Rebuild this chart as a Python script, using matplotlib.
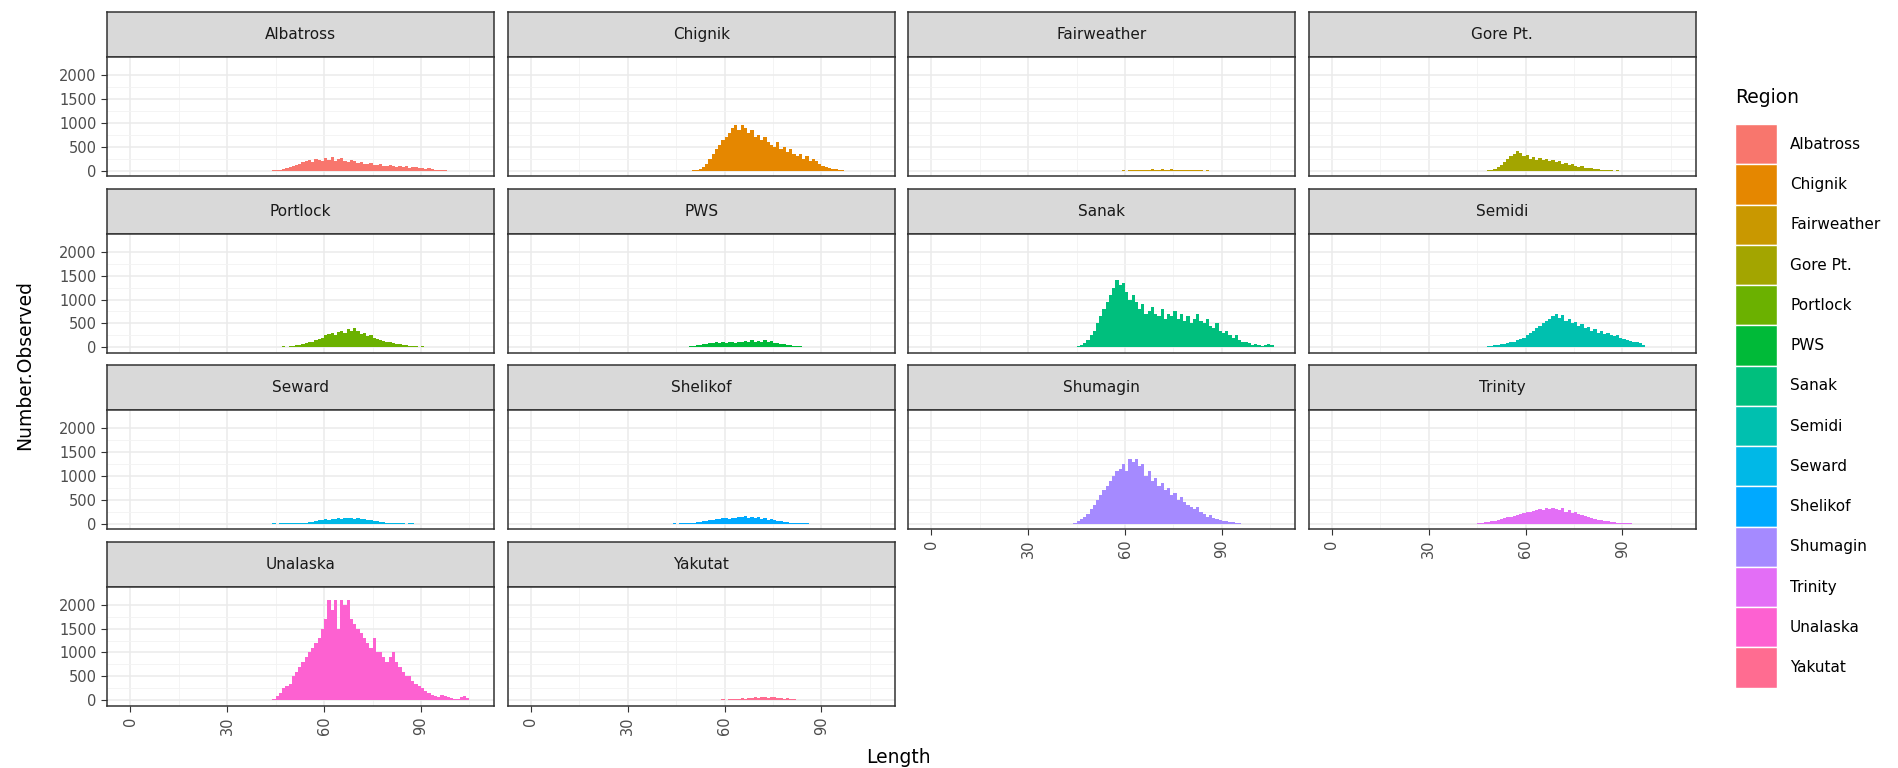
import numpy as np
import matplotlib.pyplot as plt
from matplotlib.patches import Rectangle

regions = ["Albatross", "Chignik", "Fairweather", "Gore Pt.", "Portlock", "PWS", "Sanak",
           "Semidi", "Seward", "Shelikof", "Shumagin", "Trinity", "Unalaska", "Yakutat"]
colors = ["#F8766D", "#E58700", "#C99800", "#A3A500", "#6BB100", "#00BA38", "#00BF7D",
          "#00C0AF", "#00B8E7", "#00A9FF", "#A58AFF", "#E36EF6", "#FD61D1", "#FF6C91"]

# first length bin of each region, then counts per 1-unit length bin
starts = {
    "Albatross": 42, "Chignik": 50, "Fairweather": 55, "Gore Pt.": 47, "Portlock": 40,
    "PWS": 44, "Sanak": 44, "Semidi": 45, "Seward": 44, "Shelikof": 44, "Shumagin": 44,
    "Trinity": 45, "Unalaska": 44, "Yakutat": 40,
}
counts = {
    "Albatross": [5, 0, 10, 15, 20, 30, 50, 80, 100, 120, 150, 180, 200, 220, 180, 250, 220, 200,
                  260, 230, 280, 210, 250, 270, 200, 180, 220, 200, 170, 190, 150, 140, 160, 130,
                  120, 140, 110, 100, 120, 90, 80, 100, 70, 90, 60, 80, 70, 50, 60, 40, 50, 30, 20, 25, 15, 10, 5],
    "Chignik": [10, 20, 40, 80, 150, 250, 350, 450, 550, 650, 700, 800, 900, 950, 850, 950, 900,
                800, 850, 700, 750, 650, 700, 600, 550, 500, 600, 450, 500, 400, 450, 350, 300,
                350, 250, 300, 200, 250, 200, 150, 100, 80, 50, 40, 30, 20, 10],
    "Fairweather": [5, 0, 5, 0, 10, 5, 10, 15, 10, 20, 15, 25, 20, 30, 25, 20, 30, 25, 20, 30, 25,
                    20, 15, 25, 20, 15, 10, 15, 10, 5, 10, 5, 0, 5, 5],
    "Gore Pt.": [5, 10, 20, 40, 80, 120, 180, 250, 300, 350, 420, 380, 300, 320, 250, 280, 230,
                 260, 220, 250, 200, 230, 180, 200, 150, 170, 120, 140, 100, 80, 90, 60, 50, 60, 40,
                 30, 20, 25, 15, 10, 5, 10, 5, 5],
    "Portlock": [5, 0, 5, 10, 5, 10, 15, 20, 15, 25, 30, 40, 50, 60, 80, 100, 120, 150, 180, 200,
                 250, 280, 300, 260, 320, 340, 300, 380, 330, 400, 350, 280, 300, 240, 260, 200,
                 180, 160, 140, 120, 100, 80, 70, 60, 50, 40, 30, 30, 20, 15, 20, 10, 15, 10, 5, 10, 5],
    "PWS": [5, 0, 5, 10, 10, 20, 30, 40, 50, 60, 70, 80, 90, 100, 80, 110, 90, 100, 120, 90,
            110, 100, 130, 110, 150, 120, 140, 100, 160, 110, 130, 90, 80, 70, 60, 50, 40, 30,
            30, 20, 15, 10, 10, 5, 5, 5],
    "Sanak": [10, 20, 40, 80, 150, 250, 350, 500, 650, 800, 950, 1100, 1250, 1400, 1300, 1350,
              1150, 1000, 1100, 950, 800, 900, 700, 750, 850, 700, 650, 800, 600, 700, 650, 750,
              600, 700, 550, 650, 500, 600, 700, 550, 500, 600, 450, 400, 500, 350, 300, 350,
              250, 200, 250, 150, 100, 120, 80, 50, 60, 40, 30, 50, 60, 40],
    "Semidi": [5, 10, 10, 20, 30, 40, 50, 60, 70, 80, 100, 120, 150, 180, 200, 250, 300, 350,
               400, 450, 500, 550, 600, 650, 700, 620, 680, 550, 600, 500, 520, 450, 480, 400,
               420, 350, 380, 300, 330, 280, 300, 250, 230, 260, 200, 180, 160, 140, 120, 100, 80, 50],
    "Seward": [5, 0, 5, 10, 5, 10, 15, 10, 20, 15, 20, 30, 40, 60, 80, 70, 90, 80, 100, 90, 110,
               100, 120, 110, 130, 100, 120, 90, 100, 80, 70, 60, 50, 40, 30, 20, 15, 10, 10, 5, 5, 0, 5, 5],
    "Shelikof": [5, 0, 5, 10, 10, 15, 20, 30, 40, 50, 60, 70, 80, 90, 100, 110, 120, 100, 130,
                 120, 150, 140, 160, 130, 150, 120, 140, 100, 110, 80, 90, 70, 60, 50, 40, 30, 20,
                 15, 10, 10, 5, 5],
    "Shumagin": [20, 50, 100, 150, 200, 300, 400, 500, 600, 700, 800, 900, 1000, 1100, 1150, 1250,
                 1100, 1350, 1300, 1350, 1200, 1250, 1000, 1100, 900, 950, 800, 850, 700, 750,
                 600, 650, 500, 550, 450, 400, 350, 300, 350, 250, 200, 150, 180, 120, 100, 80,
                 60, 50, 40, 30, 20, 10],
    "Trinity": [10, 20, 30, 40, 50, 60, 80, 100, 120, 140, 150, 170, 180, 200, 220, 240, 250,
                260, 280, 300, 280, 320, 300, 330, 300, 280, 320, 250, 280, 220, 240, 200, 180,
                160, 140, 120, 100, 80, 70, 60, 50, 40, 30, 20, 15, 10, 5, 5],
    "Unalaska": [30, 80, 150, 250, 300, 350, 500, 600, 700, 800, 900, 1000, 1100, 1200, 1300, 1500,
                 1700, 2100, 1900, 2100, 1500, 2100, 2000, 2100, 1700, 1600, 1500, 1400, 1300,
                 1200, 1100, 1300, 1000, 1000, 900, 800, 900, 1000, 800, 700, 600, 500, 500, 400,
                 350, 300, 250, 200, 150, 100, 80, 60, 100, 80, 60, 50, 30, 20, 60, 80, 50],
    "Yakutat": [5, 0, 0, 0, 0, 0, 0, 0, 10, 0, 0, 5, 10, 0, 5, 10, 5, 0, 10, 15, 10, 20, 15, 30,
                25, 40, 30, 50, 40, 60, 50, 70, 60, 50, 70, 60, 40, 50, 30, 40, 20, 30, 10, 5, 5],
}

W, H = 1560.0, 631.0
col_left = [88, 417, 746, 1075]
panel_w = 318
rows = [(10, 47, 145), (155, 192, 290), (300, 337, 435), (445, 482, 580)]

fig = plt.figure(figsize=(18.99, 7.68), dpi=100)
fig.patch.set_facecolor("white")

for i, reg in enumerate(regions):
    r, c = divmod(i, 4)
    top, sb, pb = rows[r]
    x0 = col_left[c] / W
    sax = fig.add_axes([x0, 1 - sb / H, panel_w / W, (sb - top) / H])
    sax.set_facecolor("#D9D9D9")
    sax.set_xticks([]); sax.set_yticks([])
    for s in sax.spines.values():
        s.set_color("#333333"); s.set_linewidth(1.1)
    sax.text(0.5, 0.5, reg, ha="center", va="center", fontsize=11, color="#1A1A1A",
             transform=sax.transAxes)

    ax = fig.add_axes([x0, 1 - pb / H, panel_w / W, (pb - sb) / H])
    x = starts[reg] + np.arange(len(counts[reg]))
    ax.bar(x, counts[reg], width=1.0, align="edge", color=colors[i], linewidth=0, zorder=3)
    ax.set_xlim(-7.2, 112.7)
    ax.set_ylim(-120, 2380)
    ax.set_xticks([0, 30, 60, 90])
    ax.set_xticks([15, 45, 75, 105], minor=True)
    ax.set_yticks([0, 500, 1000, 1500, 2000])
    ax.set_yticks([250, 750, 1250, 1750], minor=True)
    ax.grid(which="major", color="#EBEBEB", linewidth=1.1, zorder=0)
    ax.grid(which="minor", color="#F3F3F3", linewidth=0.6, zorder=0)
    for s in ax.spines.values():
        s.set_color("#333333"); s.set_linewidth(1.1)
    ax.tick_params(which="minor", length=0)
    ax.tick_params(which="major", color="#333333", labelcolor="#4D4D4D", labelsize=10.5, length=4)
    bottom = (r == 3) or (r == 2 and c >= 2)
    if bottom:
        ax.tick_params(axis="x", labelrotation=90)
    else:
        ax.tick_params(axis="x", labelbottom=False, length=0)
    if c != 0:
        ax.tick_params(axis="y", labelleft=False, length=0)

fig.text(20 / W, 1 - 300 / H, "Number.Observed", rotation=90, ha="center", va="center", fontsize=13.5)
fig.text(738 / W, 1 - 622 / H, "Length", ha="center", va="center", fontsize=13.5)

# legend
fig.text(1425 / W, 1 - 80 / H, "Region", ha="left", va="center", fontsize=13.5)
lax = fig.add_axes([1425 / W, 1 - 565 / H, 35 / W, 463 / H])
lax.set_xlim(0, 1); lax.set_ylim(0, len(regions))
lax.axis("off")
for k, reg in enumerate(regions):
    y = len(regions) - 1 - k
    lax.add_patch(Rectangle((0, y), 1, 1, facecolor=colors[k], edgecolor="white", linewidth=1))
    lax.text(1.3, y + 0.5, reg, ha="left", va="center", fontsize=11, clip_on=False)

fig.savefig("out.png", dpi=100)
